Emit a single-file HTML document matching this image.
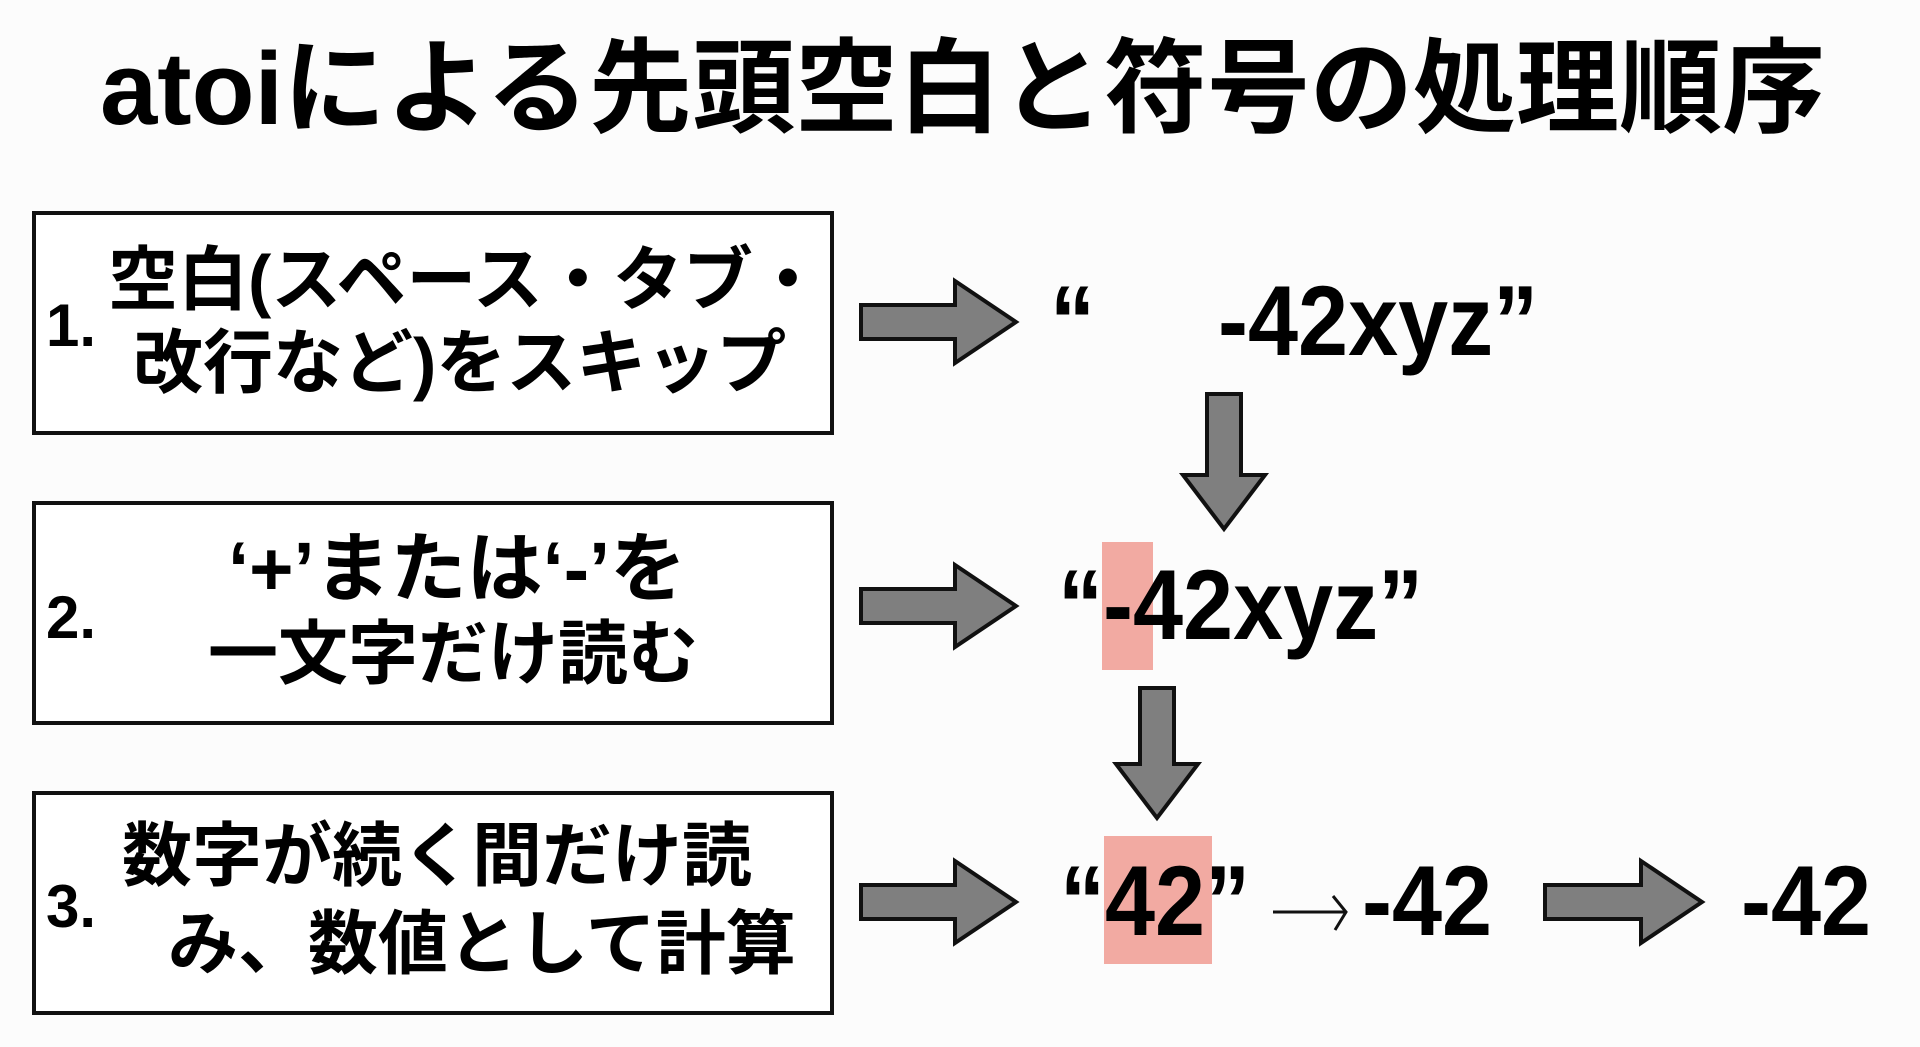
<!DOCTYPE html>
<html><head><meta charset="utf-8"><style>
html,body{margin:0;padding:0;}
body{width:1920px;height:1047px;background:#fcfcfc;position:relative;overflow:hidden;font-family:"Liberation Sans","Noto Sans CJK JP",sans-serif;font-weight:bold;color:#000;}
.a{position:absolute;white-space:nowrap;}
.box{position:absolute;border:4px solid #111;background:#fff;box-sizing:border-box;}
.t{font-size:70px;line-height:1;}
.n{font-size:60px;line-height:1;}
.v{font-size:90px;line-height:1;transform:scaleY(1.1);transform-origin:center;}
.pk{position:absolute;background:#f2aaa2;}
</style></head><body>
<div class="a" style="left:100px;top:36px;font-size:103px;line-height:106px;">atoiによる先頭空白と符号の処理順序</div>

<div class="box" style="left:32px;top:211px;width:802px;height:224px;"></div>
<div class="box" style="left:32px;top:501px;width:802px;height:224px;"></div>
<div class="box" style="left:32px;top:791px;width:802px;height:224px;"></div>

<div class="a n" style="left:46px;top:296px;">1.</div>
<div class="a t" style="left:108px;top:245px;">空白(スペース・タブ・</div>
<div class="a t" style="left:133px;top:328px;">改行など)をスキップ</div>

<div class="a n" style="left:46px;top:588px;">2.</div>
<div class="a t" style="left:228px;top:532px;font-size:76px;">‘+’または‘-’を</div>
<div class="a t" style="left:208px;top:619px;">一文字だけ読む</div>

<div class="a n" style="left:46px;top:877px;">3.</div>
<div class="a t" style="left:122px;top:821px;">数字が続く間だけ読</div>
<div class="a t" style="left:168px;top:909px;">み、数値として計算</div>

<div class="pk" style="left:1102px;top:542px;width:51px;height:128px;"></div>
<div class="pk" style="left:1104px;top:836px;width:108px;height:128px;"></div>

<div class="a v" style="left:1050px;top:277px;">“</div>
<div class="a v" style="left:1218px;top:277px;">-42xyz”</div>
<div class="a v" style="left:1058px;top:561px;">“-42xyz”</div>
<div class="a v" style="left:1060px;top:857px;">“42”</div>
<div class="a v" style="left:1362px;top:857px;">-42</div>
<div class="a v" style="left:1741px;top:857px;">-42</div>

<svg class="a" style="left:0;top:0" width="1920" height="1047">
<g fill="none" stroke="#111" stroke-width="3">
<line x1="1273" y1="912" x2="1345" y2="912"/>
<polyline points="1333,896 1346,912 1335,930"/>
</g>
<g fill="#7f7f7f" stroke="#111" stroke-width="4" stroke-linejoin="miter">
<polygon points="861,305 955,305 955,281 1016,322 955,363 955,339 861,339"/>
<polygon points="861,589 955,589 955,565 1016,606 955,647 955,623 861,623"/>
<polygon points="861,885 955,885 955,861 1016,902 955,943 955,919 861,919"/>
<polygon points="1545,885 1641,885 1641,861 1702,902 1641,943 1641,919 1545,919"/>
<polygon points="1207,394 1241,394 1241,475 1265,475 1224,529 1183,475 1207,475"/>
<polygon points="1140,688 1174,688 1174,764 1198,764 1157,818 1116,764 1140,764"/>
</g>
</svg>
</body></html>
